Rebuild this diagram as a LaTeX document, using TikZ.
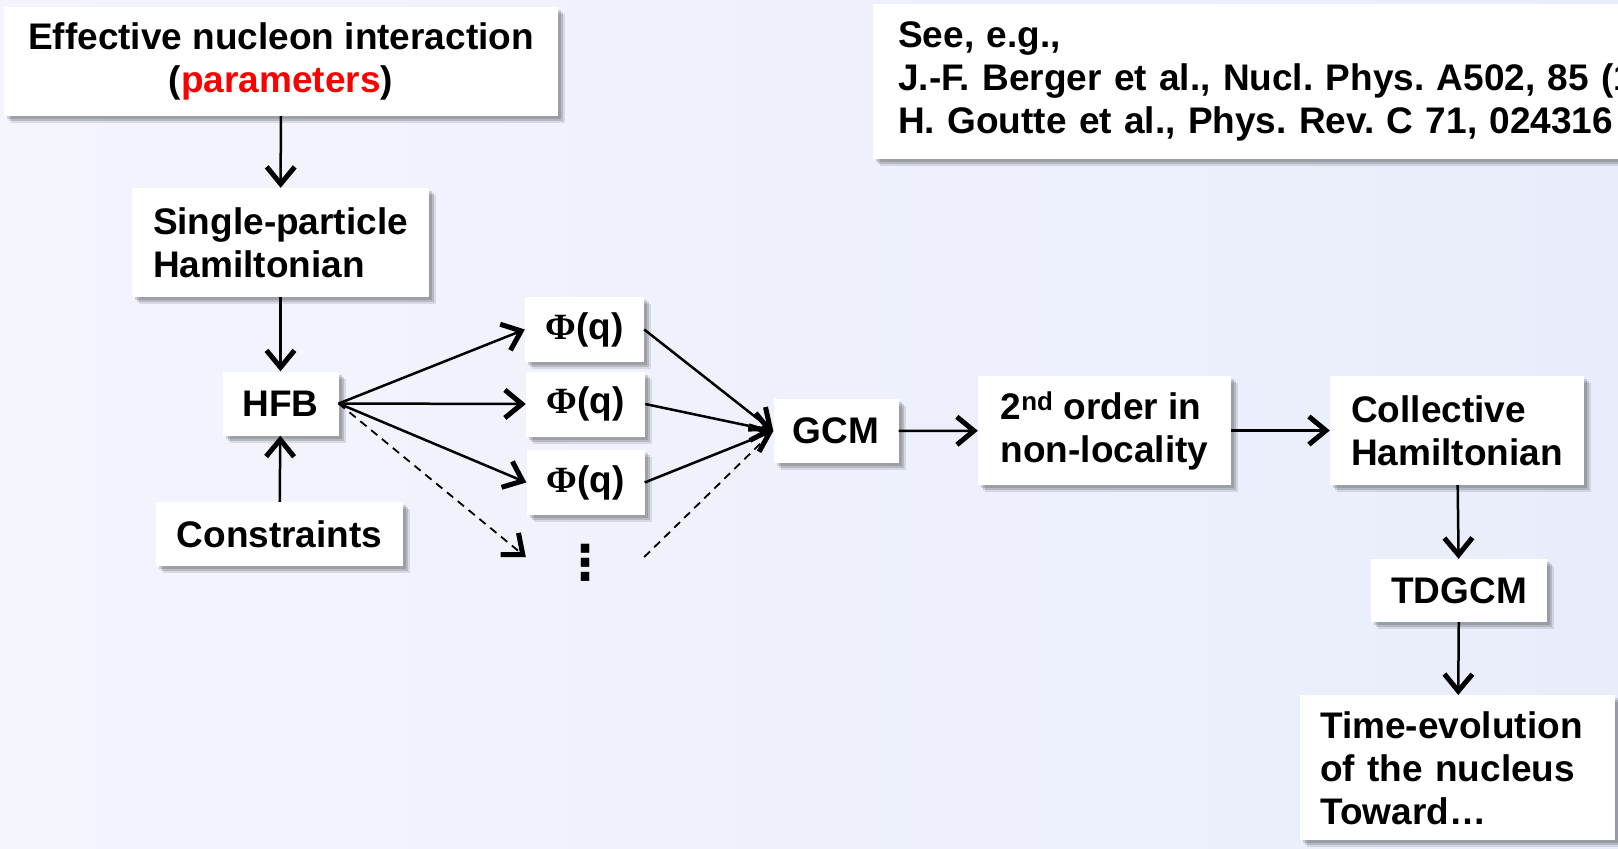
\documentclass[tikz,border=0pt]{standalone}
\usepackage{fontspec}
\setmainfont{Liberation Sans}
\newfontfamily\phifont{Liberation Serif}
\newfontfamily\dotfont{DejaVu Sans}
\usepackage{xcolor}
\usetikzlibrary{arrows.meta,calc,positioning,shadows}
\definecolor{bgtop}{RGB}{243,245,253}
\definecolor{bgbot}{RGB}{233,237,251}
\definecolor{parred}{RGB}{250,0,0}
\tikzset{%
	box/.style       = {fill=white, inner sep=0pt, text centered, font=\fontsize{37}{43}\selectfont\bfseries\frenchspacing,
	                    drop shadow={shadow xshift=3pt, shadow yshift=-3pt, opacity=.14, fill=black},
	                    drop shadow={shadow xshift=5pt, shadow yshift=-5pt, opacity=.14, fill=black},
	                    drop shadow={shadow xshift=7pt, shadow yshift=-7pt, opacity=.10, fill=black}},
	leftbox/.style   = {box, align=left},
	note/.style      = {box, align=left, anchor=north west, inner xsep=20pt},
	arrow/.style     = {line width=2.5pt, -{Straight Barb[length=17pt,width=28pt,line width=5pt]}},
	dasharrow/.style = {arrow, dash pattern=on 8pt off 6pt, line width=1.8pt},
	dashline/.style  = {dash pattern=on 8pt off 6pt, line width=1.8pt},
}

\begin{document}
\begin{tikzpicture}[x=1pt,y=-1pt]
	\useasboundingbox (0,0) rectangle (1618,849);
	\clip (0,0) rectangle (1618,849);
	\path[left color=bgtop, right color=bgbot] (0,0) rectangle (1618,849);  % background
	
	% left column
	\node[box, align=center, minimum width=554pt, minimum height=109pt] (eff) at (281,61.5) {Effective nucleon interaction\\(\textcolor{parred}{parameters})};
	\node[leftbox, minimum width=297pt, minimum height=109pt] (sp) at (280.5,242.5) {Single-particle\\Hamiltonian};
	\node[box, minimum width=116pt, minimum height=64pt] (hfb) at (280.5,403.5) {HFB};
	\node[box, minimum width=247pt, minimum height=64pt] (con) at (279.5,534) {Constraints};
	
	% generating states
	\node[box, minimum width=119pt, minimum height=65pt] (phi1) at (584.5,329.5) {{\phifont Φ}(q)};
	\node[box, minimum width=119pt, minimum height=65pt] (phi2) at (585.5,404) {{\phifont Φ}(q)};
	\node[box, minimum width=118pt, minimum height=65pt] (phi3) at (585.5,482.5) {{\phifont Φ}(q)};
	\node[font=\fontsize{48}{48}\selectfont\dotfont\bfseries, minimum width=118pt, inner sep=0pt] (dots) at (585,563) {⋮};
	
	% right part
	\node[box, minimum width=125pt, minimum height=64pt] (gcm) at (836,431) {GCM};
	\node[leftbox, minimum width=253pt, minimum height=109pt] (ord) at (1104.5,430.5) {2\textsuperscript{nd} order in\\non-locality};
	\node[leftbox, minimum width=254pt, minimum height=109pt] (col) at (1457,430.5) {Collective\\Hamiltonian};
	\node[box, minimum width=176pt, minimum height=63pt] (tdg) at (1459,590.5) {TDGCM};
	\node[note, text width=275pt, inner ysep=16pt] (tev) at (1300,695) {Time-evolution\\of the nucleus\\Toward…};
	\node[note, text width=800pt, minimum height=155pt, inner xsep=25pt] (see) at (873,4) {See, e.g.,\\J.-F. Berger et al., Nucl. Phys. A502, 85 (1\\H. Goutte et al., Phys. Rev. C 71, 024316 (};
	
	\draw[arrow] (eff) -- (sp);
	\draw[arrow] (sp) -- (hfb);
	\draw[arrow] (con) -- (hfb);
	\foreach \n in {phi1,phi2,phi3}
		\draw[arrow] (hfb.east) -- (\n.west);
	\draw[dasharrow] (hfb.east) -- ([yshift=6pt]dots.west);
	\foreach \n in {phi1,phi2,phi3}
		\draw[arrow] (\n.east) -- (gcm.west);
	\draw[dashline, shorten >=14pt] ([yshift=6pt]dots.east) -- (gcm.west);
	\draw[arrow] (gcm) -- (ord);
	\draw[arrow] (ord) -- (col);
	\draw[arrow] (col) -- (tdg);
	\draw[arrow] (tdg) -- (tev);
\end{tikzpicture}
\end{document}
